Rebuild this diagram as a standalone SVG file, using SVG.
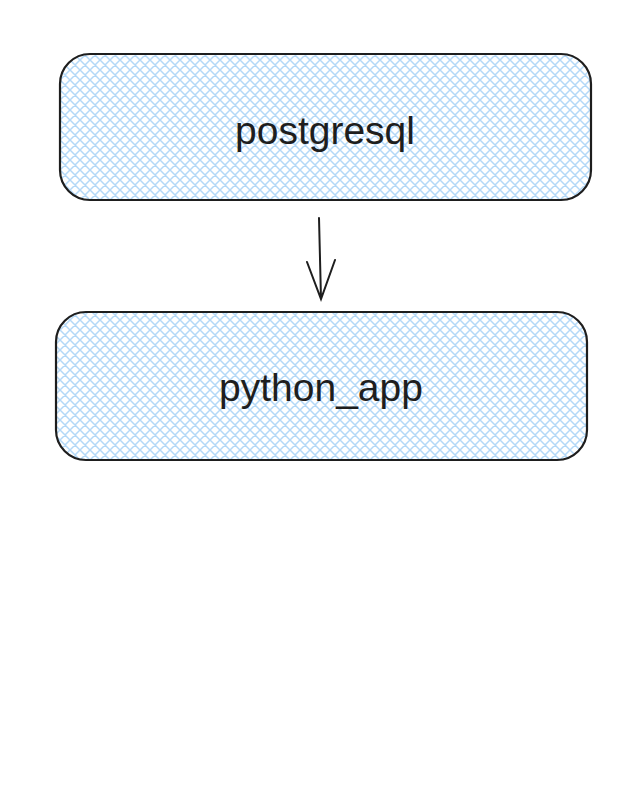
<svg xmlns="http://www.w3.org/2000/svg" width="642" height="790" viewBox="0 0 642 790">
<defs>
<pattern id="hatch" width="10" height="10" patternUnits="userSpaceOnUse">
<path d="M0 10L10 0M-2 2L2 -2M8 12L12 8M0 0L10 10M-2 8L2 12M8 -2L12 2" stroke="#b3d8f7" stroke-width="1.5"/>
</pattern>
</defs>
<style>
.box{fill:url(#hatch);stroke:#1e1e1e;stroke-width:2.2}
.lbl{font-family:"Liberation Sans",Arial,sans-serif;font-size:39px;fill:#1e1e1e;text-anchor:middle;dominant-baseline:central}
.con{fill:none;stroke:#1e1e1e;stroke-width:2;stroke-linecap:round}
</style>
<rect width="642" height="790" fill="#fff"/>
<g id="postgresql">
<rect class="box" x="60" y="54" width="531" height="146" rx="30"/>
<text class="lbl" x="325" y="130">postgresql</text>
</g>
<g id="python_app">
<rect class="box" x="56" y="312" width="531" height="148" rx="30"/>
<text class="lbl" x="321" y="387">python_app</text>
</g>
<g id="connectors">
<path class="con" d="M319 218L321 299M307 262L321 299L335 260"/>
</g>
</svg>
